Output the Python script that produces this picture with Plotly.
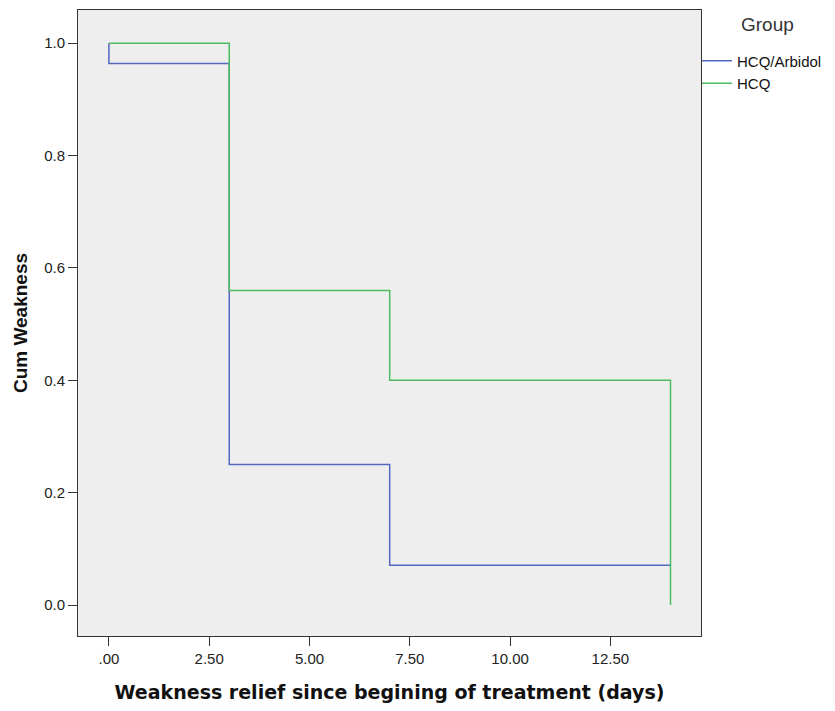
import plotly.graph_objects as go

# Data (Kaplan-Meier style step curves)
groups = ["HCQ/Arbidol", "HCQ"]
arb_time = [0, 0, 3, 7, 14]
arb_surv = [1.0, 0.964, 0.25, 0.071, 0.071]
hcq_time = [0, 3, 7, 14, 14]
hcq_surv = [1.0, 0.56, 0.40, 0.0, 0.0]
colors = ["#5468bf", "#4dbb5f"]

x_tickvals = [0, 2.5, 5, 7.5, 10, 12.5]
x_ticktext = [".00", "2.50", "5.00", "7.50", "10.00", "12.50"]
y_tickvals = [0.0, 0.2, 0.4, 0.6, 0.8, 1.0]
y_ticktext = ["0.0", "0.2", "0.4", "0.6", "0.8", "1.0"]

fig = go.Figure()
for name, t, s, c in [(groups[0], arb_time, arb_surv, colors[0]),
                      (groups[1], hcq_time, hcq_surv, colors[1])]:
    fig.add_trace(go.Scatter(x=t, y=s, mode="lines", name=name,
                             line=dict(color=c, width=1.5, shape="hv")))

font_family = "Liberation Sans, Arial, sans-serif"
fig.update_layout(
    width=835, height=711,
    margin=dict(l=70, r=142, t=2, b=83),
    paper_bgcolor="white",
    plot_bgcolor="#eeeeee",
    font=dict(family=font_family, size=15, color="#222222"),
    showlegend=True,
    legend=dict(x=0.9936, y=0.945, xanchor="left", yanchor="top",
                font=dict(size=15, color="#111111"), tracegroupgap=0,
                itemwidth=30, bgcolor="rgba(0,0,0,0)"),
    annotations=[dict(text="Group", x=1.107, y=0.997, xref="paper", yref="paper",
                      xanchor="center", yanchor="top", showarrow=False,
                      font=dict(size=19, color="#333333", family=font_family))],
)
fig.update_xaxes(range=[-0.77, 14.76], tickvals=x_tickvals, ticktext=x_ticktext,
                 showgrid=False, zeroline=False, showline=True, linecolor="#333333",
                 linewidth=1, mirror=True, ticks="outside", ticklen=9, tickcolor="#333333",
                 tickfont=dict(size=15, color="#222222"),
                 title=dict(text="<b>Weakness relief since begining of treatment (days)</b>",
                            font=dict(size=19, color="#111111", family="DejaVu Sans"),
                            standoff=19))
fig.update_yaxes(range=[-0.055, 1.059], tickvals=y_tickvals, ticktext=y_ticktext,
                 showgrid=False, zeroline=False, showline=True, linecolor="#333333",
                 linewidth=1, mirror=True, ticks="outside", ticklen=9, tickcolor="#333333",
                 tickfont=dict(size=15, color="#222222"),
                 title=dict(text="<b>Cum Weakness</b>",
                            font=dict(size=19, color="#111111"), standoff=11))

fig.write_html("out.html")
